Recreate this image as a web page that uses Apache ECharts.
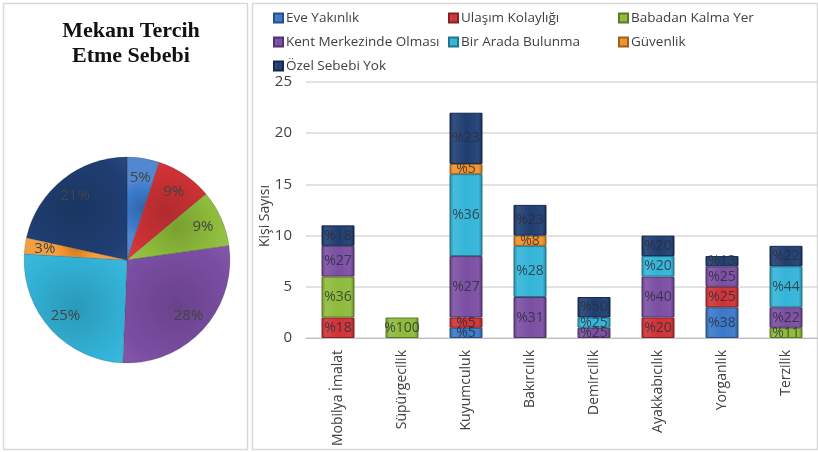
<!DOCTYPE html>
<html>
<head>
<meta charset="utf-8">
<script src="https://cdn.jsdelivr.net/npm/echarts@6/dist/echarts.min.js"></script>
<style>html,body{margin:0;padding:0;background:#fff}#c{width:818px;height:452px}</style>
</head>
<body>
<div id="c"></div>
<script>
// ---- data ----
var categories = ['Mobilya İmalat','Süpürgecilik','Kuyumculuk','Bakırcılık','Demircilik','Ayakkabıcılık','Yorganlık','Terzilik'];
var seriesNames = ['Eve Yakınlık','Ulaşım Kolaylığı','Babadan Kalma Yer','Kent Merkezinde Olması','Bir Arada Bulunma','Güvenlik','Özel Sebebi Yok'];
var eve      = [0,0,1,0,0,0,3,0];
var ulasim   = [2,0,1,0,0,2,2,0];
var babadan  = [4,2,0,0,0,0,0,1];
var kent     = [3,0,6,4,1,4,2,2];
var birArada = [0,0,8,5,1,2,0,4];
var guvenlik = [0,0,1,1,0,0,0,0];
var ozel     = [2,0,5,3,2,2,1,2];
var eveLbl      = ['','','%5','','','','%38',''];
var ulasimLbl   = ['%18','','%5','','','%20','%25',''];
var babadanLbl  = ['%36','%100','','','','','','%11'];
var kentLbl     = ['%27','','%27','%31','%25','%40','%25','%22'];
var birAradaLbl = ['','','%36','%28','%25','%20','','%44'];
var guvenlikLbl = ['','','%5','%8','','','',''];
var ozelLbl     = ['%18','','%23','%23','%50','%20','%13','%22'];
var pieValues = [4,7,7,22,20,2,17];
var pieLabels = ['5%','9%','9%','28%','25%','3%','21%'];
var yTicks = [0,5,10,15,20,25];

// ---- styles ----
var colors = ['#3a78c9','#cf3236','#8dbb3a','#7b4ea3','#33b4d8','#f0922b','#1f3e72'];
function shade(hex, f){
  var r=parseInt(hex.substr(1,2),16),g=parseInt(hex.substr(3,2),16),b=parseInt(hex.substr(5,2),16);
  function c(v){v=f>0?v+(255-v)*f:v*(1+f);return Math.round(Math.max(0,Math.min(255,v)));}
  return 'rgb('+c(r)+','+c(g)+','+c(b)+')';
}
function barGrad(hex){
  return new echarts.graphic.LinearGradient(0,0,1,0,[
    {offset:0,color:shade(hex,-0.25)},{offset:0.12,color:shade(hex,0.1)},
    {offset:0.5,color:hex},{offset:0.88,color:shade(hex,0.05)},{offset:1,color:shade(hex,-0.3)}]);
}
function pieGrad(hex){
  return new echarts.graphic.RadialGradient(0.5,0.5,0.9,[
    {offset:0,color:shade(hex,-0.15)},{offset:0.6,color:hex},{offset:1,color:shade(hex,0.12)}]);
}
var vals = [eve,ulasim,babadan,kent,birArada,guvenlik,ozel];
var lbls = [eveLbl,ulasimLbl,babadanLbl,kentLbl,birAradaLbl,guvenlikLbl,ozelLbl];

var series = seriesNames.map(function(n,i){
  return {
    name:n, type:'bar', stack:'s', barWidth:33,
    data: vals[i].map(function(v){return v===0?'-':v;}),
    itemStyle:{color:barGrad(colors[i]),borderColor:shade(colors[i],-0.35),borderWidth:1},
    label:{show:true,position:'inside',color:'rgba(45,45,55,0.8)',fontSize:14,fontFamily:'Open Sans',
      formatter:function(p){return lbls[i][p.dataIndex];}}
  };
});
series.push({
  type:'pie', center:[127,260], radius:[0,103], startAngle:90, clockwise:true,
  label:{show:false}, labelLine:{show:false}, silent:true,
  data: pieValues.map(function(v,i){return {name:seriesNames[i],value:v,itemStyle:{color:pieGrad(colors[i]),borderColor:'rgba(0,0,0,0.25)',borderWidth:0.6}};})
});
series.push({
  type:'pie', center:[127,260], radius:[57,103], startAngle:90, clockwise:true, silent:true,
  itemStyle:{color:'rgba(0,0,0,0)'},
  label:{show:true,position:'inside',color:'#444',fontSize:15,fontFamily:'Open Sans',
    formatter:function(p){return pieLabels[p.dataIndex];}},
  labelLine:{show:false},
  data: pieValues.map(function(v,i){return {name:'_'+i,value:v};})
});

function legendCol(left, names){
  return {left:left, top:6, orient:'vertical', itemWidth:9, itemHeight:9, itemGap:10, icon:'rect',
    data:names, textStyle:{fontSize:13.5,color:'#404040',fontFamily:'Open Sans',padding:[0,0,0,-2]}};
}

var chart = echarts.init(document.getElementById('c'));
chart.setOption({
  animation:false,
  color:colors,
  title:{text:'Mekanı Tercih\nEtme Sebebi',left:126,top:14,textAlign:'center',
    textStyle:{fontFamily:'Liberation Serif',fontWeight:'bold',fontSize:22,lineHeight:25,color:'#111'}},
  legend:[
    legendCol(268,[seriesNames[0],seriesNames[3],seriesNames[6]]),
    legendCol(443,[seriesNames[1],seriesNames[4]]),
    legendCol(613,[seriesNames[2],seriesNames[5]])
  ],
  graphic:[
    {type:'rect',shape:{x:3.5,y:3.5,width:244,height:446},style:{fill:'none',stroke:'#d9d9d9',lineWidth:1.5}},
    {type:'rect',shape:{x:252.5,y:3.5,width:565,height:446},style:{fill:'none',stroke:'#d9d9d9',lineWidth:1.5}}
  ],
  grid:{left:306,right:0,top:82,bottom:114},
  xAxis:{type:'category',data:categories,
    axisLine:{lineStyle:{color:'#bfbfbf'}},axisTick:{show:false},
    axisLabel:{rotate:90,interval:0,margin:12,fontSize:14,color:'#404040',fontFamily:'Open Sans'}},
  yAxis:{type:'value',min:yTicks[0],max:yTicks[yTicks.length-1],interval:5,
    name:'Kişi Sayısı',nameLocation:'middle',nameRotate:90,nameGap:34,nameMoveOverlap:false,
    nameTextStyle:{fontSize:14,color:'#404040',fontFamily:'Open Sans',padding:[0,0,0,-12]},
    axisLine:{show:false},axisTick:{show:false},
    axisLabel:{fontSize:15,color:'#404040',margin:14,fontFamily:'Open Sans'},
    splitLine:{lineStyle:{color:'#d9d9d9',width:1.5}}},
  series:series
});
</script>
</body>
</html>
